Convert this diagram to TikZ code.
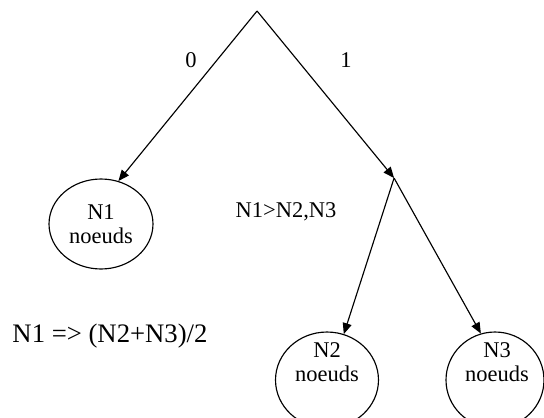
\documentclass[tikz,border=0pt]{standalone}
\usepackage{fontspec}
\setmainfont{Liberation Serif}
\usetikzlibrary{shapes.geometric,arrows.meta}
\tikzset{
  leaf/.style={ellipse, draw, inner sep=0pt, minimum width=2.08cm, minimum height=1.8cm},
  arr/.style={-{Triangle[length=2.2mm,width=1.8mm]}},
  txt/.style={font=\fontsize{12.8}{13.6}\selectfont, inner sep=0pt, align=center}
}
\begin{document}
\begin{tikzpicture}[xscale=.02, yscale=-.02, line width=0.65pt]
\useasboundingbox (0,0) rectangle (544,418);
\clip (0,0) rectangle (544,418);
\coordinate (root) at (257,11);
\coordinate (split) at (394,178);
\node[leaf, txt] (n1) at (101,224) {N1\\noeuds};
\node[leaf, minimum width=2.06cm, minimum height=1.92cm,
  label={[txt, yshift=0.36cm]center:N2\\noeuds}] (n2) at (327,380) {};
\node[leaf, minimum width=1.96cm, minimum height=1.92cm,
  label={[txt, yshift=0.36cm, xshift=0.04cm]center:N3\\noeuds}] (n3) at (495,380) {};
\draw[arr] (root) -- (n1.68);
\draw[arr] (root) -- (split);
\draw[arr] (split) -- (n2.70);
\draw[arr] (split) -- (n3.107);
\node[txt] (zero) at (191,60) {0};
\node[txt] (one) at (346,60) {1};
\node[txt] (cond) at (286,212) {N1>N2,N3};
\node[txt, font=\fontsize{15.2}{17}\selectfont, anchor=base] (rule) at (110,342) {N1 => (N2+N3)/2};
\end{tikzpicture}
\end{document}
